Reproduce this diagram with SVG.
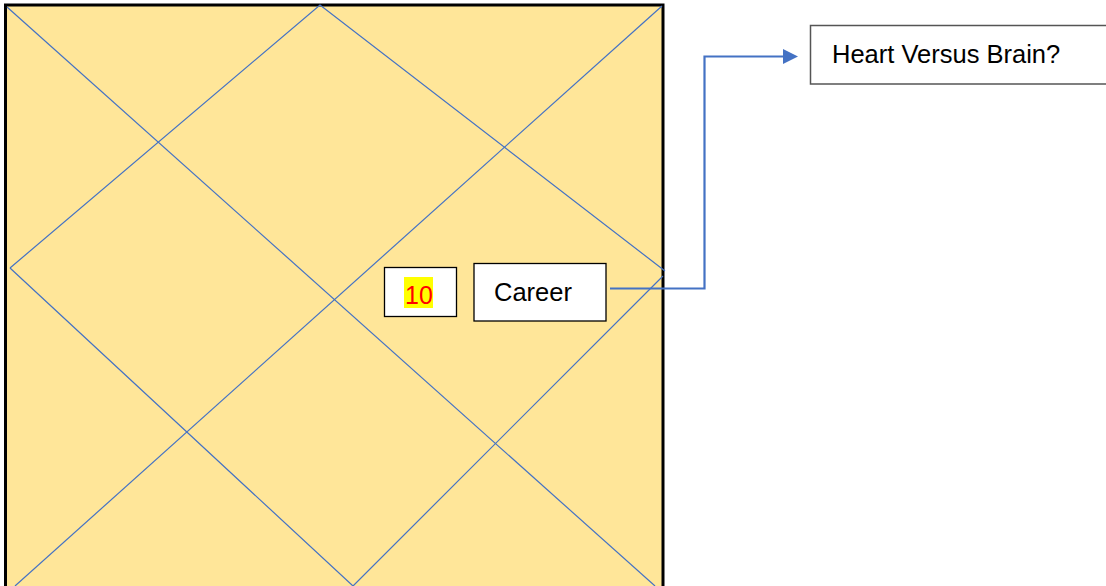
<svg xmlns="http://www.w3.org/2000/svg" width="1106" height="586" viewBox="0 0 1106 586">
  <style>
    .grid { stroke: #4472C4; stroke-width: 1.2; fill: none; }
    .box { fill: #FFFFFF; stroke: #000000; stroke-width: 1.3; }
    .label { font-family: "Liberation Sans", Arial, sans-serif; font-size: 25.5px; fill: #000000; }
    .num { font-family: "Liberation Sans", Arial, sans-serif; font-size: 25px; fill: #FF0000; }
    .conn { stroke: #4472C4; stroke-width: 2.2; fill: none; }
  </style>
  <defs>
    <marker id="arrow" markerWidth="15" markerHeight="15" refX="7" refY="7.5" orient="auto" markerUnits="userSpaceOnUse" viewBox="0 0 15 15">
      <path d="M0,0 L15,7.5 L0,15 Z" fill="#4472C4"/>
    </marker>
  </defs>

  <rect width="1106" height="586" fill="#FFFFFF"/>

  <!-- chart board -->
  <g id="chart">
    <rect x="5.5" y="5" width="657.5" height="600" fill="#FFE699" stroke="#000000" stroke-width="3"/>
    <!-- corner diagonals -->
    <line class="grid" x1="7" y1="7" x2="655" y2="586"/>
    <line class="grid" x1="662" y1="6" x2="15" y2="586"/>
    <!-- inner diamond -->
    <polyline class="grid" points="10,268 320,5 665,271"/>
    <polyline class="grid" points="10,268 353,586 663,276"/>
  </g>

  <!-- house number -->
  <g id="house-10">
    <rect class="box" x="384.5" y="267.5" width="72" height="49"/>
    <rect x="404" y="277" width="29" height="31" fill="#FFFF00"/>
    <text class="num" x="419" y="304" text-anchor="middle">10</text>
  </g>

  <!-- career label -->
  <g id="career">
    <rect class="box" x="474" y="263.5" width="132" height="57.5"/>
    <text class="label" x="494" y="301">Career</text>
  </g>

  <!-- question box -->
  <g id="question">
    <rect x="810.5" y="25.5" width="300" height="58.5" fill="#FFFFFF" stroke="#555555" stroke-width="1.5"/>
    <text class="label" x="832" y="63">Heart Versus Brain?</text>
  </g>

  <!-- connectors -->
  <g id="connectors">
    <polyline class="conn" points="610,288.5 704.5,288.5 704.5,56.5 790,56.5" marker-end="url(#arrow)"/>
  </g>
</svg>
